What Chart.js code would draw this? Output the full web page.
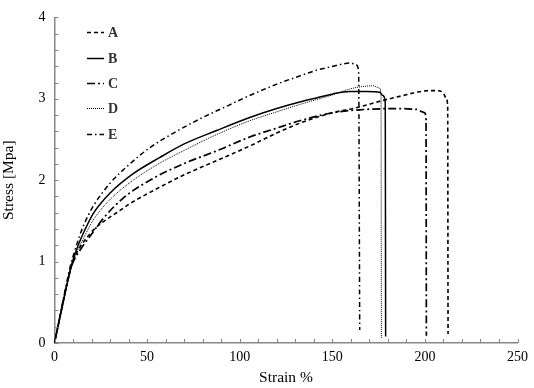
<!DOCTYPE html>
<html>
<head>
<meta charset="utf-8">
<script src="https://cdn.jsdelivr.net/npm/chart.js@4"></script>
<style>
  html, body { margin: 0; padding: 0; background: #fff; }
  #wrap { width: 534px; height: 388px; }
</style>
</head>
<body>
<div id="wrap"><canvas id="stress-chart"></canvas></div>
<script>
// strain (%) / stress (MPa)
const strainA = [0, 3, 6, 9, 10.5, 12.3, 15, 18, 22, 27, 33.5, 42, 51.5, 69.5, 87.5, 105.4, 120, 132.4, 150.4, 163, 177.3, 186.4, 195.4, 202, 206.1, 209.7, 211.5, 212.3, 212.5];
const stressA = [0, 0.33, 0.65, 0.93, 1.03, 1.12, 1.22, 1.31, 1.41, 1.50, 1.60, 1.73, 1.85, 2.06, 2.24, 2.42, 2.58, 2.70, 2.83, 2.89, 2.98, 3.03, 3.08, 3.10, 3.10, 3.08, 3.01, 2.90, 0.11];

const strainB = [0, 3, 6, 8.5, 10, 11.5, 13.5, 16, 20.9, 29.9, 42.5, 56.9, 69.5, 87.5, 105.4, 120, 132.4, 141.4, 150.4, 159.4, 168.4, 175.6, 177.3, 178.6, 178.8];
const stressB = [0, 0.32, 0.64, 0.90, 1.02, 1.12, 1.24, 1.37, 1.59, 1.84, 2.08, 2.28, 2.44, 2.61, 2.77, 2.88, 2.96, 3.01, 3.06, 3.09, 3.09, 3.08, 3.04, 2.95, 0.08];

const strainC = [0, 3, 6, 9, 11, 13.8, 16.5, 19.8, 26.3, 37.1, 51.5, 69.5, 87.5, 105.4, 120, 132.4, 150.4, 168.4, 186.4, 195.4, 199.8, 200.6, 200.8];
const stressC = [0, 0.33, 0.65, 0.93, 1.04, 1.14, 1.23, 1.33, 1.53, 1.78, 2.00, 2.20, 2.36, 2.53, 2.64, 2.73, 2.83, 2.87, 2.88, 2.87, 2.83, 2.75, 0.09];

const strainD = [0, 3, 6, 8.8, 10.5, 12.5, 15.5, 20.9, 29.9, 42.5, 56.9, 69.5, 87.5, 105.4, 120, 132.4, 150.4, 159.4, 166, 172, 175.6, 176.3, 176.5];
const stressD = [0, 0.32, 0.64, 0.91, 1.03, 1.14, 1.28, 1.51, 1.76, 2.00, 2.21, 2.36, 2.56, 2.73, 2.84, 2.93, 3.05, 3.12, 3.15, 3.16, 3.13, 3.02, 0.06];

const strainE = [0, 3, 6, 8.5, 10.5, 13, 16, 20.9, 29.9, 40.7, 51.5, 65.9, 80, 94, 105.4, 120, 132.4, 141.4, 150.4, 156, 160, 162.5, 164.2, 164.8];
const stressE = [0, 0.34, 0.68, 0.94, 1.10, 1.28, 1.46, 1.68, 1.96, 2.20, 2.40, 2.60, 2.77, 2.92, 3.04, 3.18, 3.28, 3.35, 3.40, 3.43, 3.44, 3.42, 3.35, 0.16];

const seriesNames = ["A", "B", "C", "D", "E"];
const xTickLabels = [0, 50, 100, 150, 200, 250];
const yTickLabels = [0, 1, 2, 3, 4];

const serif = "'Liberation Serif', 'Times New Roman', serif";
const axisGray = "#868686";

function pts(xs, ys) {
  return xs.map((x, i) => ({ x: x, y: ys[i] }));
}

function line(label, xs, ys, dash, width) {
  return {
    label: label,
    data: pts(xs, ys),
    borderColor: "#000",
    borderWidth: width,
    borderDash: dash,
    pointRadius: 0,
    fill: false,
    cubicInterpolationMode: "monotone",
  };
}

// ticks pointing into the plot, like the excel original
const innerTicks = {
  id: "innerTicks",
  afterDraw(chart) {
    const { ctx, chartArea } = chart;
    const xs = chart.scales.x;
    const ys = chart.scales.y;
    ctx.save();
    ctx.strokeStyle = axisGray;
    ctx.lineWidth = 1;
    ctx.beginPath();
    xs.ticks.forEach((t) => {
      const px = Math.round(xs.getPixelForValue(t.value)) + 0.5;
      ctx.moveTo(px, chartArea.bottom);
      ctx.lineTo(px, chartArea.bottom - 4);
    });
    ys.ticks.forEach((t) => {
      const py = Math.round(ys.getPixelForValue(t.value)) + 0.5;
      ctx.moveTo(chartArea.left, py);
      ctx.lineTo(chartArea.left + 4, py);
    });
    ctx.stroke();
    ctx.restore();
  },
};

// legend in the upper left corner of the plot
const cornerLegend = {
  id: "cornerLegend",
  afterDraw(chart) {
    const { ctx } = chart;
    const rows = [32, 58, 83, 108, 134];
    ctx.save();
    chart.data.datasets.forEach((ds, i) => {
      const y = rows[i] + 0.5;
      ctx.strokeStyle = "#000";
      ctx.lineWidth = ds.borderWidth;
      ctx.setLineDash(ds.borderDash);
      ctx.beginPath();
      ctx.moveTo(87, y);
      ctx.lineTo(104, y);
      ctx.stroke();
      ctx.setLineDash([]);
      ctx.fillStyle = "#333";
      ctx.font = "bold 14px " + serif;
      ctx.textBaseline = "middle";
      ctx.textAlign = "left";
      ctx.fillText(ds.label, 108, y + 1);
    });
    ctx.restore();
  },
};

const datasets = [
  line(seriesNames[0], strainA, stressA, [4, 3], 1.6),
  line(seriesNames[1], strainB, stressB, [], 1.5),
  line(seriesNames[2], strainC, stressC, [8, 3, 2, 3], 1.7),
  line(seriesNames[3], strainD, stressD, [1, 1], 1),
  line(seriesNames[4], strainE, stressE, [5, 3, 1.5, 3], 1.5),
];

const ctxEl = document.getElementById("stress-chart");
new Chart(ctxEl, {
  type: "scatter",
  data: { datasets: datasets },
  options: {
    responsive: true,
    maintainAspectRatio: false,
    animation: false,
    showLine: true,
    layout: { padding: { top: 16, right: 16, left: 0, bottom: 0 } },
    plugins: { legend: { display: false }, tooltip: { enabled: false } },
    scales: {
      x: {
        type: "linear",
        min: 0,
        max: 250,
        grid: { display: true, drawOnChartArea: false, drawTicks: false },
        border: { display: true, color: axisGray, width: 1.5 },
        ticks: {
          stepSize: 10,
          padding: 6,
          autoSkip: false,
          maxRotation: 0,
          color: "#000",
          font: { family: serif, size: 14 },
          callback: (v) => (xTickLabels.includes(v) ? String(v) : ""),
        },
        title: {
          display: true,
          text: "Strain %",
          color: "#000",
          font: { family: serif, size: 15.5 },
          padding: { top: 0, bottom: 1 },
        },
        afterFit(scale) { scale.height = 45; },
      },
      y: {
        type: "linear",
        min: 0,
        max: 4,
        grid: { display: true, drawOnChartArea: false, drawTicks: false },
        border: { display: true, color: axisGray, width: 1.5 },
        ticks: {
          stepSize: 0.2,
          padding: 9,
          autoSkip: false,
          color: "#000",
          font: { family: serif, size: 14 },
          callback: (v) => {
            const r = Math.round(v);
            return Math.abs(v - r) < 1e-6 && yTickLabels.includes(r) ? String(r) : "";
          },
        },
        title: {
          display: true,
          text: "Stress [Mpa]",
          color: "#000",
          font: { family: serif, size: 15.5 },
          padding: { top: 0, bottom: 3 },
        },
        afterFit(scale) { scale.width = 54.5; },
      },
    },
  },
  plugins: [innerTicks, cornerLegend],
});
</script>
</body>
</html>
